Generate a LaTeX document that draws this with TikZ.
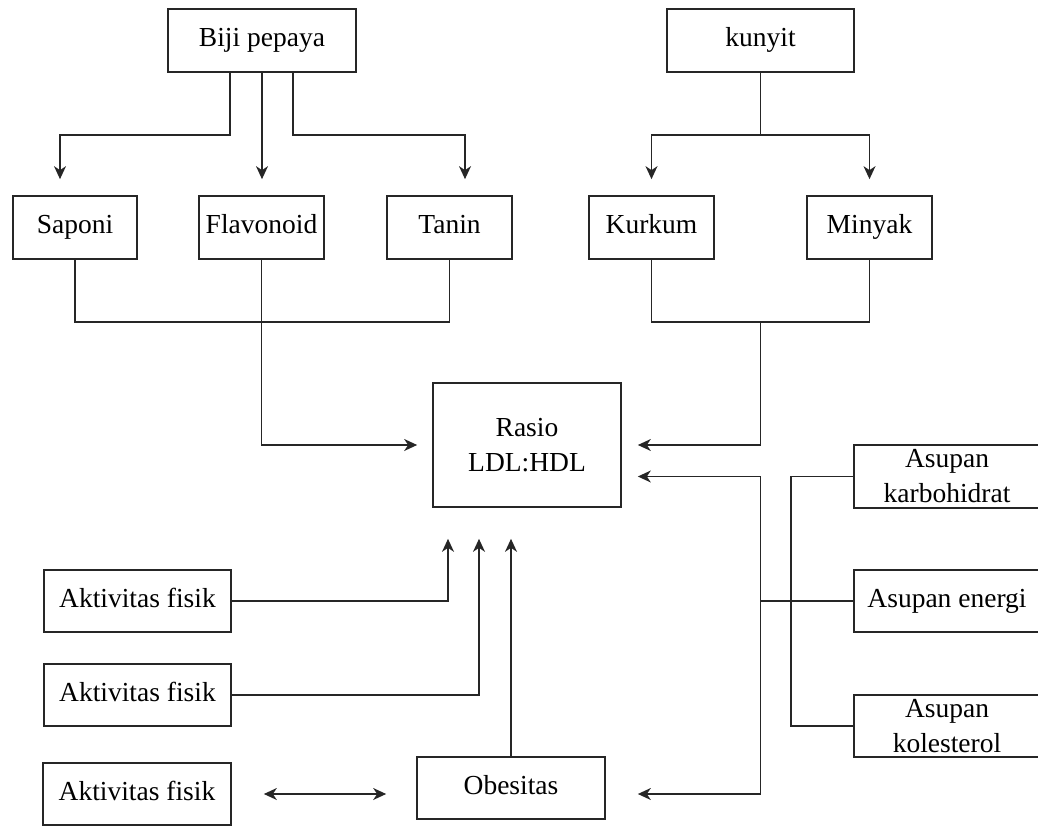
\documentclass[tikz,border=0pt]{standalone}
\usepackage{fontspec}
\setmainfont{Liberation Serif}
\usetikzlibrary{arrows.meta,calc}
\begin{document}
\begin{tikzpicture}[x=1pt,y=-1pt,
  box/.style={draw=black!85, line width=1.7pt, inner sep=0pt, align=center,
    font=\fontsize{27.5}{35}\selectfont, minimum height=63pt},
  one/.style={text height=18.5pt, text depth=6pt},
  conn/.style={draw=black!85, line width=1.6pt},
  tip/.tip={Stealth[length=13pt,width=12pt,inset=4pt]},
  arr/.style={conn, -tip},
]
\useasboundingbox (0,0) rectangle (1038,826);

% nodes
\node[box,one,minimum width=188pt] (biji) at (262,40.5) {Biji pepaya};
\node[box,one,minimum width=187pt] (kunyit) at (760.5,40.5) {kunyit};
\node[box,one,minimum width=124pt] (saponi) at (75,227.5) {Saponi};
\node[box,one,minimum width=125pt] (flav) at (261.5,227.5) {Flavonoid};
\node[box,one,minimum width=125pt] (tanin) at (449.5,227.5) {Tanin};
\node[box,one,minimum width=125pt] (kurkum) at (651.5,227.5) {Kurkum};
\node[box,one,minimum width=125pt] (minyak) at (869.5,227.5) {Minyak};
\node[box,minimum width=188pt,minimum height=124pt] (rasio) at (527,445) {Rasio\\LDL:HDL};
\node[box,one,minimum width=187pt,minimum height=62pt] (akt1) at (137.5,601) {Aktivitas fisik};
\node[box,one,minimum width=187pt,minimum height=62pt] (akt2) at (137.5,695) {Aktivitas fisik};
\node[box,one,minimum width=188pt,minimum height=62pt] (akt3) at (137,794) {Aktivitas fisik};
\node[box,one,minimum width=188pt,minimum height=62pt] (obes) at (511,788) {Obesitas};
\node[box,minimum width=186pt] (asK) at (947,476.5) {Asupan\\karbohidrat};
\node[box,one,minimum width=186pt,minimum height=62pt] (asE) at (947,601) {Asupan energi};
\node[box,minimum width=186pt,minimum height=62pt] (asC) at (947,726) {Asupan\\kolesterol};

% Biji pepaya branches
\draw[arr] ([xshift=-32pt]biji.south) -- ++(0,62) -| ([xshift=-15pt,yshift=16pt]saponi.north);
\draw[arr] (biji.south) -- ([yshift=16pt]biji.south |- flav.north);
\draw[arr] ([xshift=31pt]biji.south) -- ++(0,62) -| ([xshift=15.5pt,yshift=16pt]tanin.north);

% kunyit branches
\draw[conn] (kunyit.south) -- ++(0,62) coordinate (kj);
\draw[arr] (kj) -| ([yshift=16pt]kurkum.north);
\draw[arr] (kj) -| ([yshift=16pt]minyak.north);

% joins into Rasio
\draw[conn] (saponi.south) -- ++(0,62) -| (tanin.south);
\draw[arr, shorten >=15pt] (flav.south) |- (rasio.west);
\draw[conn] (kurkum.south) -- ++(0,62) coordinate (kmL) -| (minyak.south);
\coordinate (km) at ($(kmL)!0.5!(kmL -| minyak.south)$);
\draw[arr, shorten >=16pt] (km) |- (rasio.east);

% right trunk
\coordinate (t1) at (km |- asK.west);
\draw[arr, shorten >=16pt] (t1) -- (t1 -| rasio.east);
\draw[arr, shorten >=32pt] (t1) |- ([yshift=-6pt]obes.east);
\draw[conn] (asE.west) -- (asE.west -| t1);
\draw[conn] (asK.west) -- ++(-62,0) |- (asC.west);

% bottom-left arrows
\draw[arr, shorten >=31pt] (akt1.east) -| ([xshift=-79pt]rasio.south);
\draw[arr, shorten >=31pt] (akt2.east) -| ([xshift=-48pt]rasio.south);
\draw[arr, shorten >=31pt] (obes.north) -- (obes.north |- rasio.south);
\draw[conn, tip-tip, shorten <=32pt, shorten >=30pt] (akt3.east) -- (akt3.east -| obes.west);
\end{tikzpicture}
\end{document}
